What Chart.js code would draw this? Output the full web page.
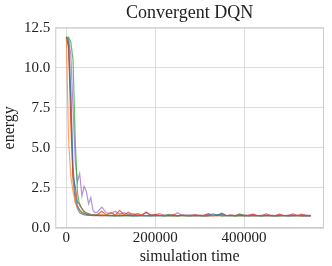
<!DOCTYPE html>
<html lang="en">
<head>
  <meta charset="UTF-8">
  <title>Convergent DQN</title>
  <script src="https://cdn.jsdelivr.net/npm/chart.js"></script>
  <style>
    html, body { margin: 0; padding: 0; background: #fff; }
    #wrap { width: 332px; height: 266px; }
  </style>
</head>
<body>
  <div id="wrap"><canvas id="energyChart"></canvas></div>

  <script>
    // simulation steps (x) shared by every run
    const steps = [0, 5000, 10000, 15000, 20000, 25000, 30000, 35000, 40000, 45000, 50000, 55000, 60000, 65000,
      70000, 80000, 90000, 100000, 110000, 120000, 130000, 140000, 150000, 160000,
      170000, 180000, 190000, 200000, 210000, 220000, 230000, 240000, 250000, 260000,
      270000, 280000, 290000, 300000, 310000, 320000, 330000, 340000, 350000, 360000,
      370000, 380000, 390000, 400000, 410000, 420000, 430000, 440000, 450000, 460000,
      470000, 480000, 490000, 500000, 510000, 520000, 530000, 540000, 550000];

    const runBlue = [11.9, 11.7, 8.5, 3.8, 2.1, 1.4, 1.1, 0.95, 0.9, 0.85, 0.82, 0.8, 0.8, 0.79,
      0.80, 0.78, 0.77, 0.79, 0.76, 0.78, 0.77, 0.80, 0.76, 0.78,
      0.77, 0.76, 0.79, 0.77, 0.78, 0.76, 0.77, 0.78, 0.76, 0.80,
      0.77, 0.76, 0.78, 0.77, 0.76, 0.77, 0.88, 0.78, 0.86, 0.77,
      0.78, 0.76, 0.77, 0.79, 0.76, 0.77, 0.78, 0.76, 0.77, 0.78,
      0.76, 0.77, 0.78, 0.76, 0.77, 0.78, 0.76, 0.77, 0.76];
    const runOrange = [11.8, 5.5, 3.2, 2.3, 1.6, 1.3, 1.15, 1.0, 0.92, 0.88, 0.85, 0.82, 0.84, 0.8,
      0.82, 0.85, 0.80, 0.95, 0.82, 0.90, 0.80, 0.94, 0.81, 0.79,
      0.80, 0.78, 0.79, 0.77, 0.80, 0.78, 0.77, 0.79, 0.76, 0.78,
      0.77, 0.79, 0.76, 0.78, 0.77, 0.78, 0.76, 0.77, 0.82, 0.77,
      0.78, 0.76, 0.80, 0.77, 0.76, 0.78, 0.77, 0.76, 0.78, 0.77,
      0.76, 0.78, 0.77, 0.76, 0.78, 0.77, 0.76, 0.77, 0.76];
    const runGreen = [11.9, 11.9, 11.6, 10.5, 5.5, 2.2, 1.4, 1.2, 1.0, 0.9, 0.85, 0.82, 0.8, 0.8,
      0.80, 0.78, 0.79, 0.77, 0.78, 0.76, 0.78, 0.77, 0.79, 0.76,
      0.78, 0.77, 0.76, 0.78, 0.77, 0.76, 0.85, 0.77, 0.76, 0.78,
      0.77, 0.76, 0.78, 0.77, 0.76, 0.78, 0.77, 0.84, 0.76, 0.77,
      0.78, 0.76, 0.86, 0.77, 0.76, 0.78, 0.77, 0.76, 0.78, 0.77,
      0.76, 0.78, 0.77, 0.76, 0.78, 0.77, 0.76, 0.78, 0.76];
    const runRed = [11.9, 11.4, 6.5, 3.2, 2.6, 1.6, 1.5, 1.2, 1.05, 0.95, 0.9, 0.85, 0.82, 0.8,
      0.85, 1.05, 0.82, 0.95, 0.80, 1.10, 0.82, 0.98, 0.80, 0.90,
      0.80, 1.00, 0.79, 0.85, 0.78, 0.80, 0.78, 0.84, 0.77, 0.79,
      0.80, 0.78, 0.84, 0.78, 0.80, 0.90, 0.78, 0.80, 0.92, 0.78,
      0.80, 0.78, 0.86, 0.77, 0.80, 0.86, 0.78, 0.77, 0.88, 0.78,
      0.77, 0.86, 0.78, 0.77, 0.88, 0.78, 0.86, 0.78, 0.77];
    const runPurple = [11.9, 11.8, 10.8, 7.5, 4.2, 2.9, 3.4, 2.0, 2.6, 2.3, 1.5, 1.9, 1.1, 0.95,
      1.00, 1.30, 0.95, 0.90, 1.05, 0.85, 0.95, 0.82, 0.90, 0.80,
      0.82, 0.95, 0.80, 0.82, 0.90, 0.78, 0.80, 0.78, 0.95, 0.80,
      0.78, 0.82, 0.78, 0.80, 0.78, 0.85, 0.78, 0.80, 0.82, 0.78,
      0.80, 0.78, 0.79, 0.80, 0.78, 0.80, 0.78, 0.79, 0.78, 0.80,
      0.78, 0.79, 0.78, 0.80, 0.78, 0.79, 0.78, 0.80, 0.79];
    const runBrown = [11.9, 11.2, 8.0, 3.0, 1.7, 1.2, 0.95, 0.88, 0.82, 0.8, 0.78, 0.78, 0.77, 0.77,
      0.77, 0.76, 0.78, 0.77, 0.76, 0.77, 0.78, 0.76, 0.77, 0.76,
      0.78, 0.77, 0.76, 0.77, 0.78, 0.76, 0.77, 0.76, 0.78, 0.77,
      0.76, 0.77, 0.78, 0.76, 0.77, 0.76, 0.78, 0.77, 0.76, 0.77,
      0.78, 0.76, 0.77, 0.76, 0.78, 0.77, 0.76, 0.77, 0.78, 0.76,
      0.77, 0.76, 0.78, 0.77, 0.76, 0.77, 0.78, 0.76, 0.77];

    const runs = [runBlue, runOrange, runGreen, runRed, runPurple, runBrown];
    const runColors = ['rgba(31,119,180,0.7)', 'rgba(255,127,14,0.7)', 'rgba(44,160,44,0.7)',
      'rgba(214,39,40,0.7)', 'rgba(148,103,189,0.7)', 'rgba(140,86,75,0.7)'];

    const xTicks = [0, 200000, 400000];
    const serif = "'Liberation Serif', 'DejaVu Serif', serif";

    // light grey frame around the plot area
    const frame = {
      id: 'frame',
      afterDraw(chart) {
        const a = chart.chartArea, c = chart.ctx;
        c.save();
        c.strokeStyle = '#cccccc';
        c.lineWidth = 1;
        c.strokeRect(a.left + 0.5, a.top + 0.5, a.right - a.left - 1, a.bottom - a.top - 1);
        c.restore();
      }
    };

    new Chart(document.getElementById('energyChart'), {
      type: 'line',
      data: {
        datasets: runs.map((r, i) => ({
          data: steps.map((s, j) => ({ x: s, y: r[j] })),
          borderColor: runColors[i],
          borderWidth: 1.2,
          pointRadius: 0,
          tension: 0
        }))
      },
      options: {
        responsive: true,
        maintainAspectRatio: false,
        animation: false,
        layout: { padding: { left: 2, right: 8, top: 2, bottom: 1 } },
        plugins: {
          legend: { display: false },
          tooltip: { enabled: false },
          title: {
            display: true,
            text: 'Convergent DQN',
            fullSize: false,
            color: '#222',
            font: { family: serif, size: 18, weight: 'normal' },
            padding: { top: 0, bottom: 4 }
          }
        },
        scales: {
          x: {
            type: 'linear',
            min: -25000,
            max: 580000,
            afterBuildTicks: (axis) => { axis.ticks = xTicks.map(v => ({ value: v })); },
            grid: { color: '#dddddd', drawTicks: false },
            border: { display: false },
            ticks: {
              color: '#222', padding: 3, maxRotation: 0,
              font: { family: serif, size: 15, lineHeight: 1 },
              callback: (v) => String(v)
            },
            title: {
              display: true, text: 'simulation time', color: '#222',
              padding: { top: 0, bottom: 0 },
              font: { family: serif, size: 16, lineHeight: 1 }
            }
          },
          y: {
            min: 0,
            max: 12.5,
            ticks: {
              stepSize: 2.5, color: '#222', padding: 5,
              font: { family: serif, size: 15 },
              callback: (v) => v.toFixed(1)
            },
            grid: { color: '#dddddd', drawTicks: false },
            border: { display: false },
            title: {
              display: true, text: 'energy', color: '#222',
              padding: { top: 0, bottom: 1 },
              font: { family: serif, size: 16, lineHeight: 1 }
            }
          }
        }
      },
      plugins: [frame]
    });
  </script>
</body>
</html>
